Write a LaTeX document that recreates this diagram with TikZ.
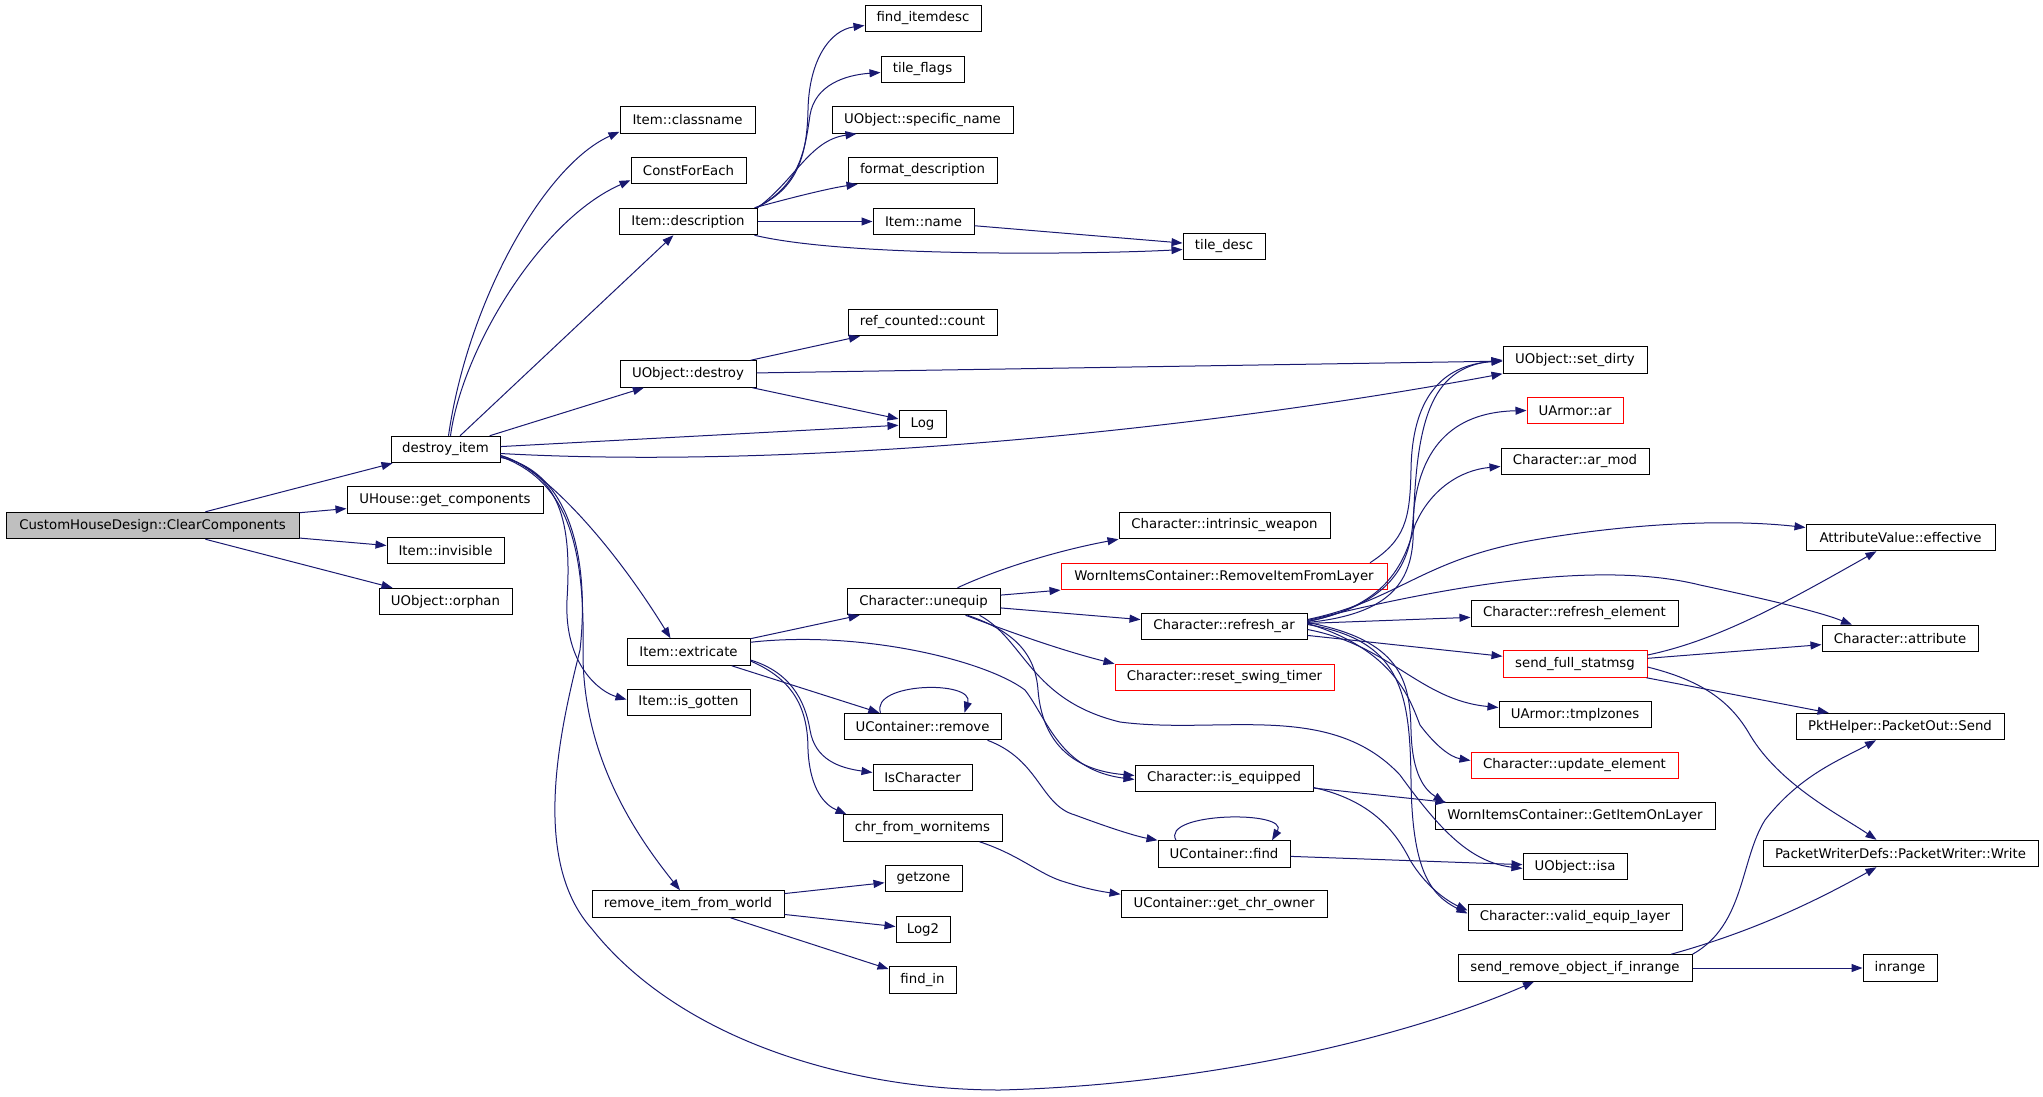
\documentclass[tikz,border=0pt]{standalone}
\usepackage{fontspec}
\setmainfont{DejaVu Sans}
\usetikzlibrary{arrows.meta}
\definecolor{navy}{RGB}{25,25,112}
\definecolor{cgray}{RGB}{191,191,191}
\begin{document}
\begin{tikzpicture}[x=1pt,y=-1pt,
  box/.style={draw=black, line width=1pt, inner sep=0pt, minimum height=26.5pt,
    font=\fontsize{13.3}{16}\selectfont, text=black},
  redbox/.style={box, draw=red},
  arr/.style={draw=navy, line width=1pt, -{Triangle[length=11pt,width=8pt]}}]
\useasboundingbox (0,0) rectangle (2043,1096);
% column 0
\node[box, fill=cgray, minimum width=293pt] (cc) at (152.5,525.5) {CustomHouseDesign::ClearComponents};
% column 1
\node[box, minimum width=109pt] (di) at (445.5,449.5) {destroy\_item};
\node[box, minimum width=196pt] (uhouse) at (445,500) {UHouse::get\_components};
\node[box, minimum width=117pt] (inv) at (445.5,550.5) {Item::invisible};
\node[box, minimum width=133pt] (orphan) at (445.5,601.5) {UObject::orphan};
% column 2
\node[box, minimum width=135pt] (classname) at (687.5,120) {Item::classname};
\node[box, minimum width=115pt] (cfe) at (688.5,170.5) {ConstForEach};
\node[box, minimum width=138pt] (desc) at (688,221.5) {Item::description};
\node[box, minimum width=136pt] (udestroy) at (688,374) {UObject::destroy};
\node[box, minimum width=123pt] (extricate) at (688.5,652) {Item::extricate};
\node[box, minimum width=123pt] (isgotten) at (688.5,702.5) {Item::is\_gotten};
\node[box, minimum width=192pt] (riw) at (688,904) {remove\_item\_from\_world};
% column 3
\node[box, minimum width=116pt] (finddesc) at (923,18.5) {find\_itemdesc};
\node[box, minimum width=83pt] (tileflags) at (922.5,69.5) {tile\_flags};
\node[box, minimum width=181pt] (specname) at (922.5,120) {UObject::specific\_name};
\node[box, minimum width=149pt] (fmtdesc) at (922.5,170.5) {format\_description};
\node[box, minimum width=101pt] (iname) at (923.5,221.5) {Item::name};
\node[box, minimum width=149pt] (refcount) at (922.5,322.5) {ref\_counted::count};
\node[box, minimum width=47pt] (log) at (922.5,424) {Log};
\node[box, minimum width=153pt] (unequip) at (923.5,601.5) {Character::unequip};
\node[box, minimum width=157pt] (ucremove) at (922.5,726.5) {UContainer::remove};
\node[box, minimum width=99pt] (ischar) at (922.5,777.5) {IsCharacter};
\node[box, minimum width=159pt] (chrworn) at (922.5,828) {chr\_from\_wornitems};
\node[box, minimum width=77pt] (getzone) at (923.5,878.5) {getzone};
\node[box, minimum width=54pt] (log2) at (923,929.5) {Log2};
\node[box, minimum width=67pt] (findin) at (922.5,980) {find\_in};
% column 4
\node[box, minimum width=82pt] (tiledesc) at (1224,246.5) {tile\_desc};
\node[box, minimum width=211pt] (intrinsic) at (1224.5,525.5) {Character::intrinsic\_weapon};
\node[redbox, minimum width=326pt] (rifl) at (1224,576.5) {WornItemsContainer::RemoveItemFromLayer};
\node[box, minimum width=166pt] (refreshar) at (1224,626.5) {Character::refresh\_ar};
\node[redbox, minimum width=219pt] (swing) at (1224.5,677.5) {Character::reset\_swing\_timer};
\node[box, minimum width=178pt] (isequip) at (1224,778.5) {Character::is\_equipped};
\node[box, minimum width=132pt] (ucfind) at (1224,854) {UContainer::find};
\node[box, minimum width=206pt] (chrowner) at (1224,904) {UContainer::get\_chr\_owner};
% column 5
\node[box, minimum width=144pt] (setdirty) at (1575,360) {UObject::set\_dirty};
\node[redbox, minimum width=96pt] (uarmorar) at (1575,410.5) {UArmor::ar};
\node[box, minimum width=148pt] (armod) at (1575,461.5) {Character::ar\_mod};
\node[box, minimum width=207pt] (refreshel) at (1574.5,613.5) {Character::refresh\_element};
\node[redbox, minimum width=144pt] (fullstat) at (1575,664) {send\_full\_statmsg};
\node[box, minimum width=152pt] (tmplzones) at (1575,714.5) {UArmor::tmplzones};
\node[redbox, minimum width=207pt] (updel) at (1574.5,765.5) {Character::update\_element};
\node[box, minimum width=280pt] (getitem) at (1575,816) {WornItemsContainer::GetItemOnLayer};
\node[box, minimum width=104pt] (isa) at (1575,866.5) {UObject::isa};
\node[box, minimum width=214pt] (validequip) at (1575,917.5) {Character::valid\_equip\_layer};
\node[box, minimum width=234pt] (sendremove) at (1575,968) {send\_remove\_object\_if\_inrange};
% column 6
\node[box, minimum width=189pt] (effective) at (1900.5,537.5) {AttributeValue::effective};
\node[box, minimum width=156pt] (attribute) at (1900,638.5) {Character::attribute};
\node[box, minimum width=208pt] (pktsend) at (1900,726.5) {PktHelper::PacketOut::Send};
\node[box, minimum width=275pt] (pktwrite) at (1900.5,853.5) {PacketWriterDefs::PacketWriter::Write};
\node[box, minimum width=74pt] (inrange) at (1900,968) {inrange};

% edges from ClearComponents
\draw[arr] (cc) -- (di);
\draw[arr] (cc) -- (uhouse);
\draw[arr] (cc) -- (inv);
\draw[arr] (cc) -- (orphan);
% destroy_item
\draw[arr] ([xshift=3pt]di.north) .. controls (468,300) and (545,165) .. ([yshift=2pt]classname.south west);
\draw[arr] ([xshift=5pt]di.north) .. controls (462,350) and (540,220) .. ([yshift=4pt]cfe.south west);
\draw[arr] (di) -- (desc);
\draw[arr] (di) -- (udestroy);
\draw[arr] (di) -- (log);
\draw[arr] ([yshift=-4pt]di.east) .. controls (800,470) and (1200,430) .. (setdirty.south west);
\draw[arr] ([yshift=-6pt]di.east) .. controls (540,465) and (610,540) .. ([xshift=-18pt]extricate.north);
\draw[arr] ([yshift=-6pt]di.east) .. controls (560,475) and (572,520) .. (567,600) .. controls (564,665) and (600,692) .. ([yshift=3pt]isgotten.west);
\draw[arr] ([yshift=-7pt]di.east) .. controls (565,480) and (585,540) .. (583,650) .. controls (582,760) and (640,840) .. ([xshift=-8pt]riw.north);
\draw[arr] ([yshift=-8pt]di.east) .. controls (570,470) and (590,560) .. (580,650) .. controls (560,730) and (530,860) .. (592,929) .. controls (680,1040) and (850,1090) .. (1000,1090) .. controls (1200,1085) and (1400,1040) .. ([xshift=-41pt]sendremove.south);
% Item::description
\draw[arr] ([xshift=-2pt]desc.north east) .. controls (795,190) and (807,160) .. (808,110) .. controls (809,60) and (830,30) .. ([yshift=-7pt]finddesc.west);
\draw[arr] ([xshift=-1pt]desc.north east) .. controls (800,185) and (805,150) .. (810,115) .. controls (815,85) and (845,75) .. ([yshift=-3pt]tileflags.west);
\draw[arr] (desc.north east) .. controls (795,180) and (810,140) .. ([xshift=25pt]specname.south west);
\draw[arr] ([xshift=-3pt]desc.north east) .. controls (790,198) and (830,188) .. ([xshift=10pt]fmtdesc.south west);
\draw[arr] (desc) -- (iname);
\draw[arr] ([xshift=-3pt]desc.south east) .. controls (850,258) and (1100,254) .. ([yshift=-3pt]tiledesc.west);
\draw[arr] (iname) -- (tiledesc);
% UObject::destroy
\draw[arr] (udestroy) -- (refcount);
\draw[arr] (udestroy) -- (setdirty);
\draw[arr] (udestroy) -- (log);
% Item::extricate
\draw[arr] (extricate) -- (unequip);
\draw[arr] ([yshift=-4pt]extricate.north east) .. controls (860,630) and (985,660) .. (1025,690) .. controls (1048,720) and (1060,770) .. ([yshift=-1pt]isequip.west);
\draw[arr] (extricate) -- (ucremove);
\draw[arr] ([yshift=-8pt]extricate.east) .. controls (790,672) and (805,700) .. (810,730) .. controls (815,760) and (840,768) .. ([yshift=5pt]ischar.west);
\draw[arr] ([yshift=-9pt]extricate.east) .. controls (795,680) and (808,710) .. (808,750) .. controls (810,790) and (825,805) .. ([xshift=4pt]chrworn.north west);
% Character::unequip
\draw[arr] ([xshift=34pt]unequip.north) .. controls (1000,568) and (1060,550) .. (intrinsic.south west);
\draw[arr] (unequip) -- (rifl);
\draw[arr] (unequip) -- (refreshar);
\draw[arr] ([xshift=42pt]unequip.south) .. controls (1010,632) and (1060,650) .. (swing.north west);
\draw[arr] ([xshift=44pt]unequip.south) .. controls (1010,630) and (1035,650) .. (1038,690) .. controls (1042,740) and (1070,770) .. ([yshift=3pt]isequip.west);
\draw[arr] ([xshift=56pt]unequip.south) .. controls (1025,640) and (1030,700) .. (1120,722) .. controls (1220,735) and (1330,700) .. (1400,775) .. controls (1440,830) and (1470,862) .. ([yshift=-2pt]isa.west);
% WornItemsContainer::RemoveItemFromLayer
\draw[arr] ([xshift=146pt]rifl.north) .. controls (1405,540) and (1410,520) .. (1411,470) .. controls (1412,400) and (1440,365) .. ([yshift=-1pt]setdirty.west);
% Character::refresh_ar
\draw[arr] ([yshift=4pt]refreshar.east) .. controls (1380,615) and (1410,590) .. (1413,540) .. controls (1415,420) and (1430,368) .. (setdirty.west);
\draw[arr] ([yshift=5pt]refreshar.east) .. controls (1385,605) and (1410,570) .. (1413,520) .. controls (1418,440) and (1460,412) .. (uarmorar.west);
\draw[arr] ([yshift=5pt]refreshar.east) .. controls (1390,605) and (1405,560) .. (1415,525) .. controls (1430,490) and (1460,470) .. ([yshift=-5pt]armod.west);
\draw[arr] ([yshift=7pt]refreshar.east) .. controls (1400,600) and (1420,560) .. (1534,540) .. controls (1620,525) and (1720,518) .. ([yshift=10pt]effective.west);
\draw[arr] ([yshift=6pt]refreshar.east) .. controls (1450,585) and (1600,560) .. (1700,585) .. controls (1770,600) and (1820,612) .. ([xshift=-48pt]attribute.north);
\draw[arr] (refreshar) -- (refreshel);
\draw[arr] (refreshar) -- (fullstat);
\draw[arr] ([yshift=-3pt]refreshar.east) .. controls (1390,645) and (1420,700) .. ([yshift=7pt]tmplzones.west);
\draw[arr] ([yshift=3pt]refreshar.east) .. controls (1395,650) and (1410,700) .. (1420,725) .. controls (1435,745) and (1450,757) .. ([yshift=5pt]updel.west);
\draw[arr] ([yshift=4pt]refreshar.east) .. controls (1400,640) and (1410,680) .. (1411,730) .. controls (1412,775) and (1425,790) .. ([xshift=10pt]getitem.north west);
\draw[arr] ([yshift=2pt]refreshar.east) .. controls (1400,640) and (1410,690) .. (1411,780) .. controls (1412,870) and (1430,895) .. ([yshift=4pt]validequip.west);
% send_full_statmsg
\draw[arr] ([yshift=9pt]fullstat.east) .. controls (1720,640) and (1790,600) .. ([xshift=-24pt]effective.south);
\draw[arr] (fullstat) -- (attribute);
\draw[arr] (fullstat) -- (pktsend);
\draw[arr] ([yshift=-3pt]fullstat.east) .. controls (1700,680) and (1730,700) .. (1750,735) .. controls (1780,785) and (1840,815) .. ([xshift=-24pt]pktwrite.north);
% Character::is_equipped
\draw[arr] (isequip) -- (getitem);
\draw[arr] ([yshift=-9pt]isequip.east) .. controls (1370,800) and (1395,830) .. (1410,860) .. controls (1425,885) and (1445,900) .. ([yshift=7pt]validequip.west);
% UContainer::remove
\draw[arr] ([xshift=-42pt]ucremove.north) .. controls (870,682) and (975,680) .. ([xshift=42pt]ucremove.north);
\draw[arr] ([xshift=65pt]ucremove.south) .. controls (1040,760) and (1040,805) .. (1075,815) .. controls (1110,828) and (1135,836) .. (ucfind.north west);
% UContainer::find
\draw[arr] ([xshift=-48pt]ucfind.north) .. controls (1160,812) and (1290,810) .. ([xshift=48pt]ucfind.north);
\draw[arr] (ucfind) -- (isa);
% chr_from_wornitems
\draw[arr] ([xshift=57pt]chrworn.south) .. controls (1020,855) and (1040,875) .. (1065,882) .. controls (1090,890) and (1105,892) .. ([yshift=-4pt]chrowner.north west);
% remove_item_from_world
\draw[arr] (riw) -- (getzone);
\draw[arr] (riw) -- (log2);
\draw[arr] (riw) -- (findin);
% send_remove_object_if_inrange
\draw[arr] (sendremove.north east) .. controls (1745,925) and (1740,860) .. (1765,820) .. controls (1800,775) and (1840,760) .. ([xshift=-24pt]pktsend.south);
\draw[arr] ([xshift=96pt]sendremove.north) .. controls (1740,935) and (1800,910) .. ([xshift=-24pt]pktwrite.south);
\draw[arr] (sendremove) -- (inrange);
\end{tikzpicture}
\end{document}
